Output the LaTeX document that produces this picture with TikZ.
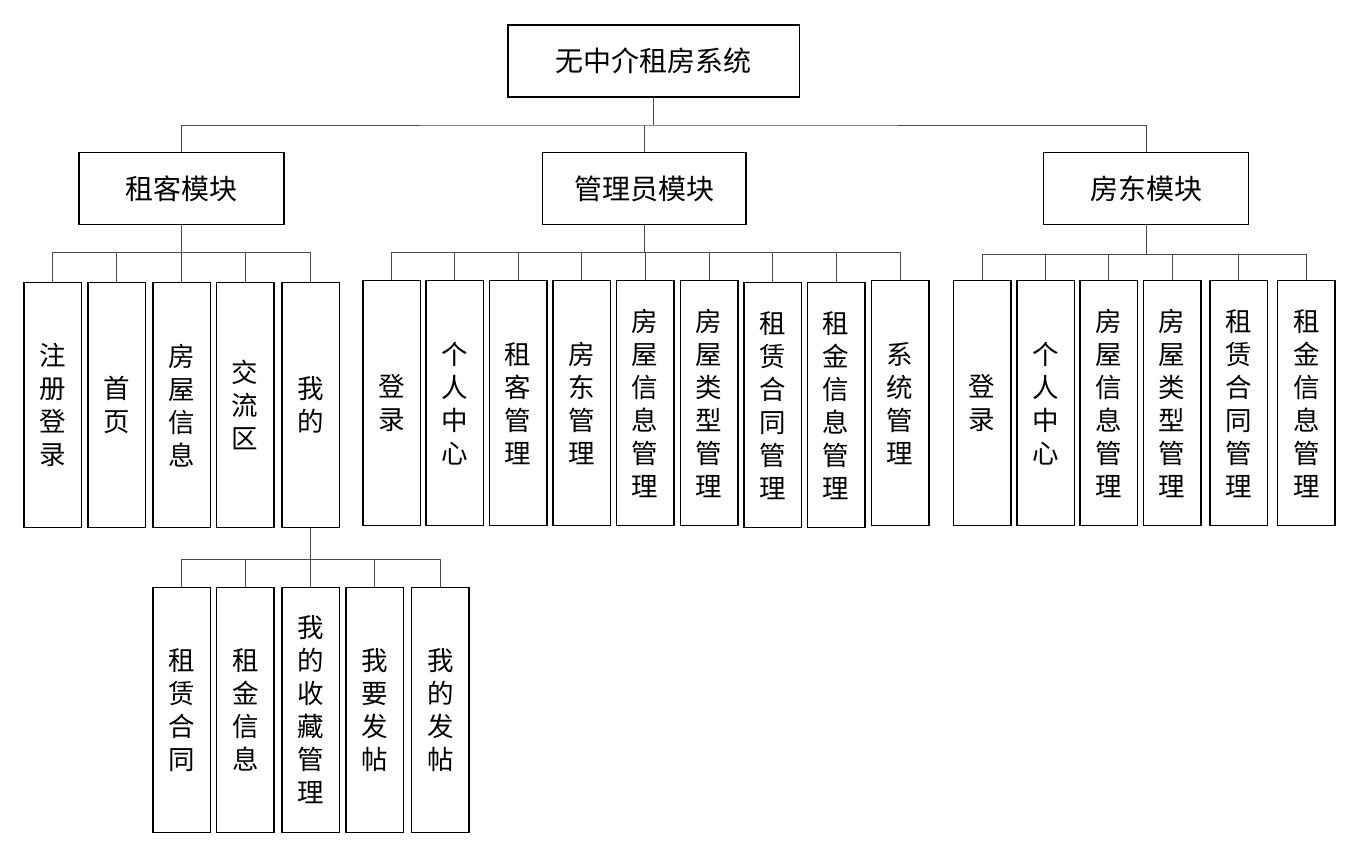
\documentclass[tikz,border=0pt]{standalone}
\usepackage{fontspec}
\setmainfont{Noto Sans CJK SC}
\begin{document}
\begin{tikzpicture}[x=1pt,y=-1pt,
  box/.style={draw=black,line width=1.5pt,inner sep=0pt,align=center,fill=white},
  vbox/.style={box,minimum width=57.5pt,minimum height=245pt,font=\fontsize{26.5}{33}\selectfont},
  hbox/.style={box,minimum height=72pt,font=\fontsize{28}{34}\selectfont},
  link/.style={draw=black!70,line width=1pt}]
\useasboundingbox[fill=white] (0,0) rectangle (1357,855);

% level 0 and 1
\node[hbox,minimum width=291.7pt] (top) at (653.8,61) {无中介租房系统};
\node[hbox,minimum width=205pt] (ten) at (181.5,188.5) {租客模块};
\node[hbox,minimum width=203.6pt] (adm) at (644.2,188.5) {管理员模块};
\node[hbox,minimum width=205pt] (lan) at (1146.2,188.5) {房东模块};

% tenant children
\node[vbox] (t1) at (52.5,405.2) {注\\册\\登\\录};
\node[vbox] (t2) at (116.9,405.2) {首\\页};
\node[vbox] (t3) at (181.7,405.2) {房\\屋\\信\\息};
\node[vbox] (t4) at (245.2,405.2) {交\\流\\区};
\node[vbox] (t5) at (310.9,405.2) {我\\的};

% admin children
\node[vbox] (a1) at (391.8,403.2) {登\\录};
\node[vbox] (a2) at (454.8,403.2) {个\\人\\中\\心};
\node[vbox] (a3) at (518,403.2) {租\\客\\管\\理};
\node[vbox] (a4) at (581.8,403.2) {房\\东\\管\\理};
\node[vbox] (a5) at (645.2,403.2) {房\\屋\\信\\息\\管\\理};
\node[vbox] (a6) at (709,403.2) {房\\屋\\类\\型\\管\\理};
\node[vbox] (a7) at (772.8,405.2) {租\\赁\\合\\同\\管\\理};
\node[vbox] (a8) at (836,405.2) {租\\金\\信\\息\\管\\理};
\node[vbox] (a9) at (900,403.2) {系\\统\\管\\理};

% landlord children
\node[vbox] (l1) at (982,403.2) {登\\录};
\node[vbox] (l2) at (1045.8,403.2) {个\\人\\中\\心};
\node[vbox] (l3) at (1108.5,403.2) {房\\屋\\信\\息\\管\\理};
\node[vbox] (l4) at (1172,403.2) {房\\屋\\类\\型\\管\\理};
\node[vbox] (l5) at (1238.6,403.2) {租\\赁\\合\\同\\管\\理};
\node[vbox] (l6) at (1306.4,403.2) {租\\金\\信\\息\\管\\理};

% sub children of 我的
\node[vbox] (s1) at (181.7,710) {租\\赁\\合\\同};
\node[vbox] (s2) at (245.3,710) {租\\金\\信\\息};
\node[vbox] (s3) at (310.9,710) {我\\的\\收\\藏\\管\\理};
\node[vbox] (s4) at (374.7,710) {我\\要\\发\\帖};
\node[vbox] (s5) at (440.3,710) {我\\的\\发\\帖};

% connectors level 0 -> 1
\coordinate (b0) at (653.8,125);
\draw[link] (top.south) -- (b0);
\draw[link] (ten.north) |- (b0) -| (lan.north);
\draw[link] (adm.north) -- (adm.north |- b0);

% tenant
\coordinate (bt) at (181.5,252.3);
\draw[link] (ten.south) -- (bt);
\draw[link] (t1.north) |- (bt) -| (t5.north);
\foreach \n in {t2,t3,t4} \draw[link] (\n.north) -- (\n.north |- bt);

% admin
\coordinate (ba) at (644.2,252.3);
\draw[link] (adm.south) -- (ba);
\draw[link] (a1.north) |- (ba) -| (a9.north);
\foreach \n in {a2,a3,a4,a5,a6,a7,a8} \draw[link] (\n.north) -- (\n.north |- ba);

% landlord
\coordinate (bl) at (1146.2,254.3);
\draw[link] (lan.south) -- (bl);
\draw[link] (l1.north) |- (bl) -| (l6.north);
\foreach \n in {l2,l3,l4,l5} \draw[link] (\n.north) -- (\n.north |- bl);

% sub of 我的
\coordinate (bs) at (310.9,559.7);
\draw[link] (t5.south) -- (bs);
\draw[link] (s1.north) |- (bs) -| (s5.north);
\foreach \n in {s2,s3,s4} \draw[link] (\n.north) -- (\n.north |- bs);
\end{tikzpicture}
\end{document}
